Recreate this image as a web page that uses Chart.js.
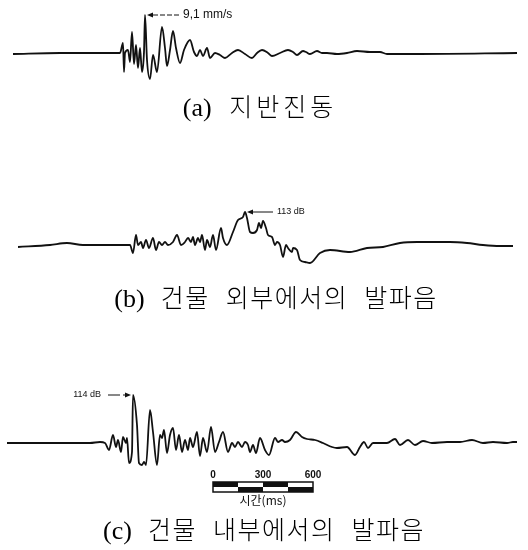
<!DOCTYPE html>
<html>
<head>
<meta charset="utf-8">
<script src="https://cdn.jsdelivr.net/npm/chart.js@4"></script>
<style>
  body { margin: 0; background: #fff; width: 528px; height: 550px; position: relative; overflow: hidden; }
  canvas { position: absolute; left: 0; }
  .caption {
    position: absolute; left: 0; width: 528px; text-align: center;
    font-family: "Noto Sans CJK KR", sans-serif; font-weight: 300; font-size: 25px;
    line-height: 30px; letter-spacing: 1.5px; word-spacing: 9px; color: #000; white-space: pre;
  }
  .caption span { font-family: "Liberation Serif", "DejaVu Serif", serif; font-size: 26px; letter-spacing: 0; }
</style>
</head>
<body>
<canvas id="waveA" width="528" height="90" style="top:0px"></canvas>
<div class="caption" style="top:90px;left:-4px;letter-spacing:4px;word-spacing:8px"><span>(a)</span> 지반진동</div>
<canvas id="waveB" width="528" height="90" style="top:190px"></canvas>
<div class="caption" style="top:281px;left:12px"><span>(b)</span> 건물 외부에서의 발파음</div>
<canvas id="waveC" width="528" height="135" style="top:380px"></canvas>
<div class="caption" style="top:513px"><span>(c)</span> 건물 내부에서의 발파음</div>

<script>
// time axis in ms (whole record shown)
const timeMax = 3168;

// (a) ground vibration
const timeA = [78, 360, 720, 738, 744, 750, 768, 780, 792, 804, 816, 828, 840, 852, 864, 870, 882, 900, 918, 942,
  972, 990, 1002, 1020, 1038, 1056, 1080, 1104, 1140, 1164, 1182, 1200, 1218, 1242, 1260, 1290, 1320, 1350, 1392, 1428,
  1470, 1512, 1542, 1572, 1608, 1632, 1680, 1728, 1758, 1782, 1818, 1836, 1860, 1902, 1932, 1962, 2022, 2082, 2142, 2220,
  2280, 2322, 2520, 3102];
const ampA = [-1, 0, 0, 10, -19, 0, 3, -9, 21, -11, 8, -15, 5, -19, 1, 38, -7, -26, -2, -19,
  26, 5, -13, 3, 22, 5, -10, 3, 13, 1, -3, 3, -3, 5, -5, 0, -2, -5, 0, 3,
  -1, -5, 0, 3, 0, -3, 0, 3, 1, -2, 2, 1, -1, 2, 0, 0, -1, 0, 2, 1,
  1, -1, -1, 0];

// (b) blast noise outside the building
const timeB = [108, 300, 402, 498, 720, 780, 798, 816, 828, 846, 858, 876, 894, 918, 936, 954, 972, 990, 1008, 1038,
  1062, 1086, 1110, 1128, 1146, 1158, 1170, 1188, 1200, 1212, 1230, 1242, 1260, 1278, 1296, 1326, 1338, 1362, 1398, 1428,
  1458, 1470, 1482, 1500, 1518, 1542, 1554, 1566, 1578, 1596, 1608, 1632, 1650, 1662, 1680, 1698, 1716, 1728, 1752, 1758,
  1782, 1800, 1830, 1860, 1920, 1980, 2100, 2202, 2298, 2400, 2502, 2598, 2700, 2802, 2898, 3000, 3078];
const ampB = [-2, 0, 2, 0, 0, 0, -8, 10, 0, 3, -3, 5, -3, 7, -5, 3, 0, 3, 0, 3,
  10, 0, 3, 7, 3, 8, 0, 7, 3, 10, -5, 5, -2, 10, -5, 17, 7, 0, 13, 25,
  28, 33, 27, 13, 12, 15, 22, 17, 24, 17, 10, 8, 0, 3, 0, -12, 0, -3, -7, -3,
  -5, -15, -17, -18, -8, -5, -7, -3, -2, 2, 3, 3, 3, 2, 0, -1, -1];

// (c) blast noise inside the building
const timeC = [42, 492, 540, 600, 630, 654, 678, 696, 708, 726, 738, 756, 762, 774, 792, 798, 822, 834, 852, 864,
  876, 900, 918, 942, 960, 972, 984, 1002, 1020, 1038, 1056, 1074, 1092, 1110, 1128, 1140, 1158, 1182, 1200, 1218,
  1242, 1266, 1290, 1314, 1338, 1368, 1392, 1410, 1428, 1452, 1470, 1488, 1500, 1518, 1536, 1560, 1590, 1614, 1650, 1668,
  1692, 1710, 1740, 1776, 1812, 1842, 1890, 1938, 1992, 2022, 2082, 2130, 2160, 2184, 2208, 2238, 2322, 2370, 2400, 2448,
  2490, 2538, 2592, 2682, 2760, 2832, 2898, 2958, 3042, 3078, 3102];
const ampC = [0, 0, 0, 1, 0, -7, 8, -4, 3, -9, 6, 0, 5, -20, -9, 48, 18, -20, -22, -19,
  -22, 33, 11, -22, 8, 5, 13, -10, 8, 15, -7, 8, -9, 3, -7, 5, -4, 11, -13, 5,
  -9, 16, -9, 1, 11, -9, 0, -4, 1, -4, 1, -2, -9, -2, -10, 5, -7, -12, 5, 1,
  3, 1, 3, 11, 6, 4, 3, 0, -4, -5, -4, -12, -4, 1, -5, 0, 0, 4, -2, 3,
  -2, 2, 0, 1, 1, 3, 0, 1, 0, 1, 1];

// peak labels
const peakLabels = ["9,1 mm/s", "113 dB", "114 dB"];

// time scale bar (ms)
const barStart = 1278;
const barTicks = [0, 300, 600];
const barStep = 150;
const barTitle = "시간(ms)";

function toPoints(times, amps) {
  return times.map((t, i) => ({ x: t, y: amps[i] }));
}

// Draws the arrow + label pointing at the biggest peak of the trace
const peakPlugin = {
  id: "peakLabel",
  afterDatasetsDraw(chart, args, opts) {
    const meta = chart.getDatasetMeta(0);
    const amps = chart.data.datasets[0].data.map((p) => p.y);
    const pt = meta.data[amps.indexOf(Math.max(...amps))];
    const ctx = chart.ctx;
    const px = pt.x, py = pt.y;
    ctx.save();
    ctx.strokeStyle = "#111";
    ctx.fillStyle = "#111";
    ctx.lineWidth = 1;
    ctx.font = opts.font;
    ctx.textBaseline = "middle";
    const dir = opts.side === "left" ? -1 : 1;
    const tip = px + dir * 2;
    // arrow head
    ctx.beginPath();
    ctx.moveTo(tip, py);
    ctx.lineTo(tip + dir * 6, py - 2.5);
    ctx.lineTo(tip + dir * 6, py + 2.5);
    ctx.closePath();
    ctx.fill();
    // shaft
    ctx.setLineDash(opts.dash);
    ctx.beginPath();
    ctx.moveTo(tip + dir * 6, py);
    ctx.lineTo(tip + dir * opts.len, py);
    ctx.stroke();
    ctx.setLineDash([]);
    ctx.textAlign = dir > 0 ? "left" : "right";
    ctx.fillText(opts.text, tip + dir * (opts.len + 4), py + opts.dy);
    ctx.restore();
  },
};

// Checkered time scale bar under trace (c)
const scaleBarPlugin = {
  id: "scaleBar",
  afterDraw(chart, args, opts) {
    if (!opts.show) return;
    const xs = chart.scales.x;
    const ys = chart.scales.y;
    const ctx = chart.ctx;
    const top = ys.getPixelForValue(-39);
    const bot = ys.getPixelForValue(-49);
    const mid = (top + bot) / 2;
    const segs = (barTicks[barTicks.length - 1] - barTicks[0]) / barStep;
    ctx.save();
    for (let i = 0; i < segs; i++) {
      const x0 = xs.getPixelForValue(barStart + i * barStep);
      const x1 = xs.getPixelForValue(barStart + (i + 1) * barStep);
      ctx.fillStyle = i % 2 ? "#fff" : "#111";
      ctx.fillRect(x0, top, x1 - x0, mid - top);
      ctx.fillStyle = i % 2 ? "#111" : "#fff";
      ctx.fillRect(x0, mid, x1 - x0, bot - mid);
    }
    const xa = xs.getPixelForValue(barStart);
    const xb = xs.getPixelForValue(barStart + barTicks[barTicks.length - 1]);
    ctx.strokeStyle = "#111";
    ctx.lineWidth = 1.5;
    ctx.strokeRect(xa, top, xb - xa, bot - top);
    // tick labels
    ctx.fillStyle = "#111";
    ctx.font = "bold 10px 'Liberation Sans', Arial, sans-serif";
    ctx.textAlign = "center";
    ctx.textBaseline = "middle";
    barTicks.forEach((t) => {
      ctx.fillText(String(t), xs.getPixelForValue(barStart + t), ys.getPixelForValue(-32));
    });
    ctx.font = "12px 'Noto Sans CJK KR', sans-serif";
    ctx.fillText(barTitle, (xa + xb) / 2, ys.getPixelForValue(-57));
    ctx.restore();
  },
};

function makeWave(id, times, amps, yMin, yMax, label) {
  const ctx = document.getElementById(id).getContext("2d");
  return new Chart(ctx, {
    type: "line",
    data: {
      datasets: [
        {
          data: toPoints(times, amps),
          borderColor: "#111",
          borderWidth: 1.8,
          pointRadius: 0,
          cubicInterpolationMode: "monotone",
          fill: false,
        },
      ],
    },
    options: {
      responsive: false,
      animation: false,
      layout: { padding: 0 },
      scales: {
        x: { type: "linear", display: false, min: 0, max: timeMax },
        y: { display: false, min: yMin, max: yMax },
      },
      plugins: {
        legend: { display: false },
        tooltip: { enabled: false },
        peakLabel: label,
        scaleBar: { show: id === "waveC" },
      },
    },
    plugins: [peakPlugin, scaleBarPlugin],
  });
}

makeWave("waveA", timeA, ampA, -37, 53, {
  text: peakLabels[0], side: "right", len: 32, dash: [5, 2], dy: 0,
  font: "12px 'Liberation Sans', Arial, sans-serif",
});
makeWave("waveB", timeB, ampB, -35, 55, {
  text: peakLabels[1], side: "right", len: 26, dash: [], dy: 0,
  font: "9px 'Liberation Sans', Arial, sans-serif",
});
makeWave("waveC", timeC, ampC, -72, 63, {
  text: peakLabels[2], side: "left", len: 26, dash: [2, 3, 10, 0], dy: 0,
  font: "9px 'Liberation Sans', Arial, sans-serif",
});
</script>
</body>
</html>
